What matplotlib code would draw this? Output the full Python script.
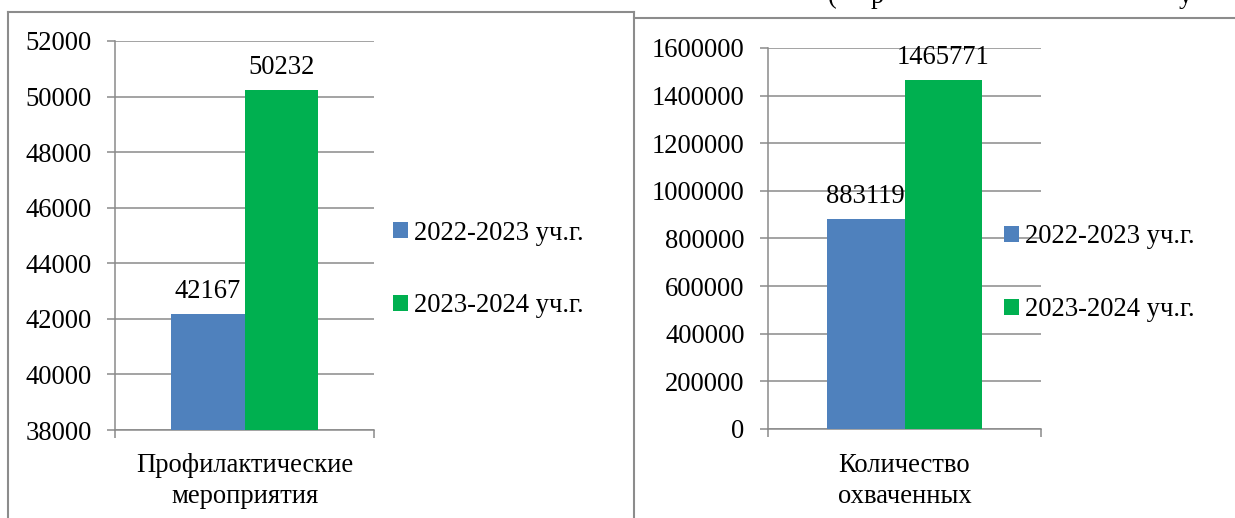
import matplotlib
matplotlib.use("Agg")
import matplotlib.pyplot as plt
from matplotlib.patches import Patch
from matplotlib.lines import Line2D

plt.rcParams['font.family'] = 'serif'
plt.rcParams['font.serif'] = ['Liberation Serif', 'DejaVu Serif']

series_names = ["2022-2023 уч.г.", "2023-2024 уч.г."]
colors = ["#4F81BD", "#00B050"]
left_category = "Профилактические\nмероприятия"
left_values = [42167, 50232]
left_ticks = [38000, 40000, 42000, 44000, 46000, 48000, 50000, 52000]
right_category = "Количество\nохваченных"
right_values = [883119, 1465771]
right_ticks = [0, 200000, 400000, 600000, 800000, 1000000, 1200000, 1400000, 1600000]

W, H = 1235, 518
fig = plt.figure(figsize=(W / 100, H / 100), dpi=100)
FS = 19.2
GRID = "#8a8a8a"


def px_rect(l, t, r, b):
    return [l / W, 1 - b / H, (r - l) / W, (b - t) / H]


def draw_panel(rect, values, ticks, category, legend_xy):
    ax = fig.add_axes(px_rect(*rect))
    bw = 0.2857
    offs = [-bw / 2, bw / 2]
    for v, o, c in zip(values, offs, colors):
        ax.bar(o, v - ticks[0], bottom=ticks[0], width=bw, color=c, zorder=3)
        ax.annotate(str(v), (o, v), xytext=(0, 7), textcoords="offset points",
                    ha="center", va="bottom", fontsize=FS, zorder=4)
    ax.set_xlim(-0.5, 0.5)
    ax.set_ylim(ticks[0], ticks[-1])
    ax.set_yticks(ticks)
    ax.set_yticklabels([str(t) for t in ticks])
    ax.set_xticks([-0.5, 0.5])
    ax.set_xticklabels(["", ""])
    ax.yaxis.grid(True, color=GRID, linewidth=1.1, zorder=0)
    for s in ["top", "right"]:
        ax.spines[s].set_visible(False)
    for s in ["left", "bottom"]:
        ax.spines[s].set_color(GRID)
        ax.spines[s].set_linewidth(1.1)
    ax.tick_params(axis="y", length=5.8, width=1.1, color=GRID, pad=11, labelsize=FS)
    ax.tick_params(axis="x", length=5.5, width=1.1, color=GRID)
    cx = (rect[0] + rect[2]) / 2
    fig.text(cx / W, 1 - 481 / H, category, ha="center", va="center",
             fontsize=FS, linespacing=1.3)
    handles = [Patch(facecolor=c, edgecolor="none") for c in colors]
    fig.legend(handles, series_names, loc="center left",
               bbox_to_anchor=(legend_xy[0] / W, 1 - legend_xy[1] / H),
               frameon=False, fontsize=FS, handlelength=0.55, handleheight=0.55,
               handletextpad=0.25, labelspacing=1.8, borderpad=0, borderaxespad=0)
    return ax


draw_panel((115, 41, 374, 430), left_values, left_ticks, left_category, (393, 269.5))
draw_panel((768, 48, 1041, 429), right_values, right_ticks, right_category, (1004, 273))

# panel frames
frame_kw = dict(color="#8c8c8c", linewidth=1.5, transform=fig.transFigure)
def fl(x1, y1, x2, y2):
    fig.add_artist(Line2D([x1 / W, x2 / W], [1 - y1 / H, 1 - y2 / H], **frame_kw))

fl(8, 12, 8, 520)
fl(8, 12, 634, 12)
fl(634, 12, 634, 520)
fl(634, 18, 1240, 18)

# cut-off text line at the very top of the page
for ch, x in [("(", 832), ("р", 877), ("у", 1185)]:
    fig.text(x / W, 1 - 3 / H, ch, ha="center", va="baseline", fontsize=FS)

fig.savefig("out.png", dpi=100)
